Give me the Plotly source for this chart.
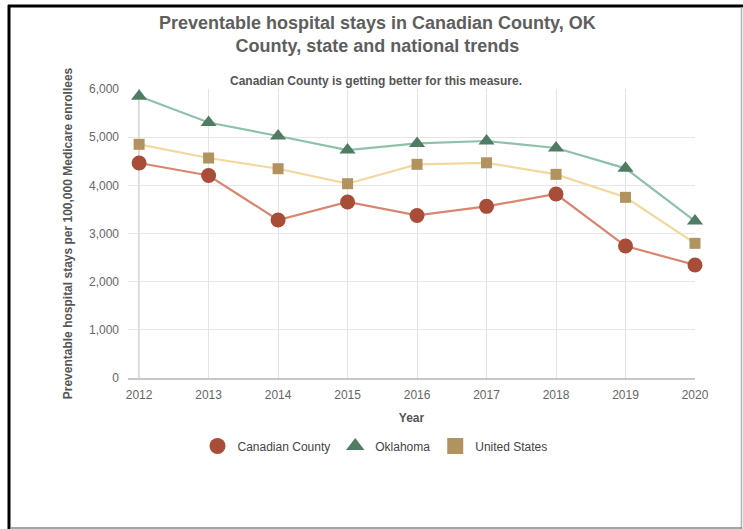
import plotly.graph_objects as go

years = [2012, 2013, 2014, 2015, 2016, 2017, 2018, 2019, 2020]
canadian = [4463, 4205, 3280, 3654, 3375, 3564, 3820, 2740, 2346]
oklahoma = [5848, 5305, 5024, 4733, 4870, 4920, 4775, 4353, 3259]
united_states = [4851, 4567, 4345, 4034, 4436, 4468, 4228, 3751, 2796]

series = [
    ("Canadian County", canadian, "#d98670", "#a84d37", "circle", 15),
    ("Oklahoma", oklahoma, "#8fc0aa", "#4f7c63", "triangle-up", 14),
    ("United States", united_states, "#f2d89f", "#b0935f", "square", 11),
]

W, H = 743, 529
L, R, T, B = 128, 48, 89, 151
PW, PH = W - L - R, H - T - B

def px_x(p):
    return (p - L) / PW

def px_y(p):
    return (H - B - p) / PH

fig = go.Figure()
for name, vals, lc, mc, sym, sz in series:
    fig.add_trace(go.Scatter(
        x=years, y=vals, mode="lines+markers", name=name, showlegend=False,
        line=dict(color=lc, width=2.2), cliponaxis=False,
        marker=dict(color=mc, symbol=sym, size=sz),
        hovertemplate="%{x}: %{y:,}<extra>" + name + "</extra>",
    ))
for name, vals, lc, mc, sym, sz in series:
    fig.add_trace(go.Scatter(
        x=[None], y=[None], mode="markers", name=name,
        marker=dict(color=mc, symbol=sym, size=16),
    ))

shapes = [
    dict(type="line", xref="x", yref="paper", x0=years[0], x1=years[0], y0=0, y1=1,
         line=dict(color="#9a9a9a", width=1), layer="below"),
    # outer frame
    dict(type="line", xref="paper", yref="paper", x0=px_x(9), x1=px_x(9), y0=px_y(5), y1=px_y(530),
         line=dict(color="#000000", width=3)),
    dict(type="line", xref="paper", yref="paper", x0=px_x(8), x1=px_x(743), y0=px_y(6), y1=px_y(6),
         line=dict(color="#000000", width=3)),
    dict(type="line", xref="paper", yref="paper", x0=px_x(741.5), x1=px_x(741.5), y0=px_y(7), y1=px_y(530),
         line=dict(color="#b0b0b0", width=1.5)),
    dict(type="line", xref="paper", yref="paper", x0=px_x(10), x1=px_x(742), y0=px_y(528), y1=px_y(528),
         line=dict(color="#888888", width=1.5)),
]

annotations = [
    dict(text="<b>Preventable hospital stays in Canadian County, OK<br>County, state and national trends</b>",
         xref="paper", yref="paper", x=px_x(377), y=px_y(11), xanchor="center", yanchor="top",
         showarrow=False, font=dict(size=18, color="#5e5e5e")),
    dict(text="<b>Canadian County is getting better for this measure.</b>",
         xref="paper", yref="paper", x=px_x(376), y=px_y(81), xanchor="center", yanchor="middle",
         showarrow=False, font=dict(size=12, color="#555555")),
]

fig.update_layout(
    width=W, height=H,
    margin=dict(l=L, r=R, t=T, b=B),
    paper_bgcolor="white", plot_bgcolor="white",
    font=dict(family="Liberation Sans, Arial, sans-serif", color="#666666", size=12),
    annotations=annotations,
    xaxis=dict(
        range=[2011.84, 2020.0], tickvals=years, ticktext=[str(y) for y in years],
        showgrid=True, gridcolor="#e3e3e3", gridwidth=1,
        showline=True, linecolor="#c8c8c8", linewidth=2,
        ticks="", zeroline=False, ticklabelstandoff=5,
        title=dict(text="<b>Year</b>", font=dict(size=12, color="#555555"), standoff=12),
        tickfont=dict(size=12, color="#666666"),
    ),
    yaxis=dict(
        range=[0, 6000], tickvals=[0, 1000, 2000, 3000, 4000, 5000, 6000],
        tickformat=",d", showgrid=True, gridcolor="#e6e6e6", gridwidth=1,
        zeroline=False, showline=False, ticks="", ticklabelstandoff=8,
        title=dict(text="<b>Preventable hospital stays per 100,000 Medicare enrollees</b>",
                   font=dict(size=12, color="#555555"), standoff=13),
        tickfont=dict(size=12, color="#666666"),
    ),
    legend=dict(
        orientation="h", x=px_x(375), xanchor="center", y=px_y(446), yanchor="middle",
        font=dict(size=12, color="#444444"), itemsizing="trace",
        itemwidth=30, tracegroupgap=0,
    ),
    shapes=shapes,
    showlegend=True,
)

fig.write_html("out.html", config={"displayModeBar": False},
               post_script="document.body.style.margin='0';")
